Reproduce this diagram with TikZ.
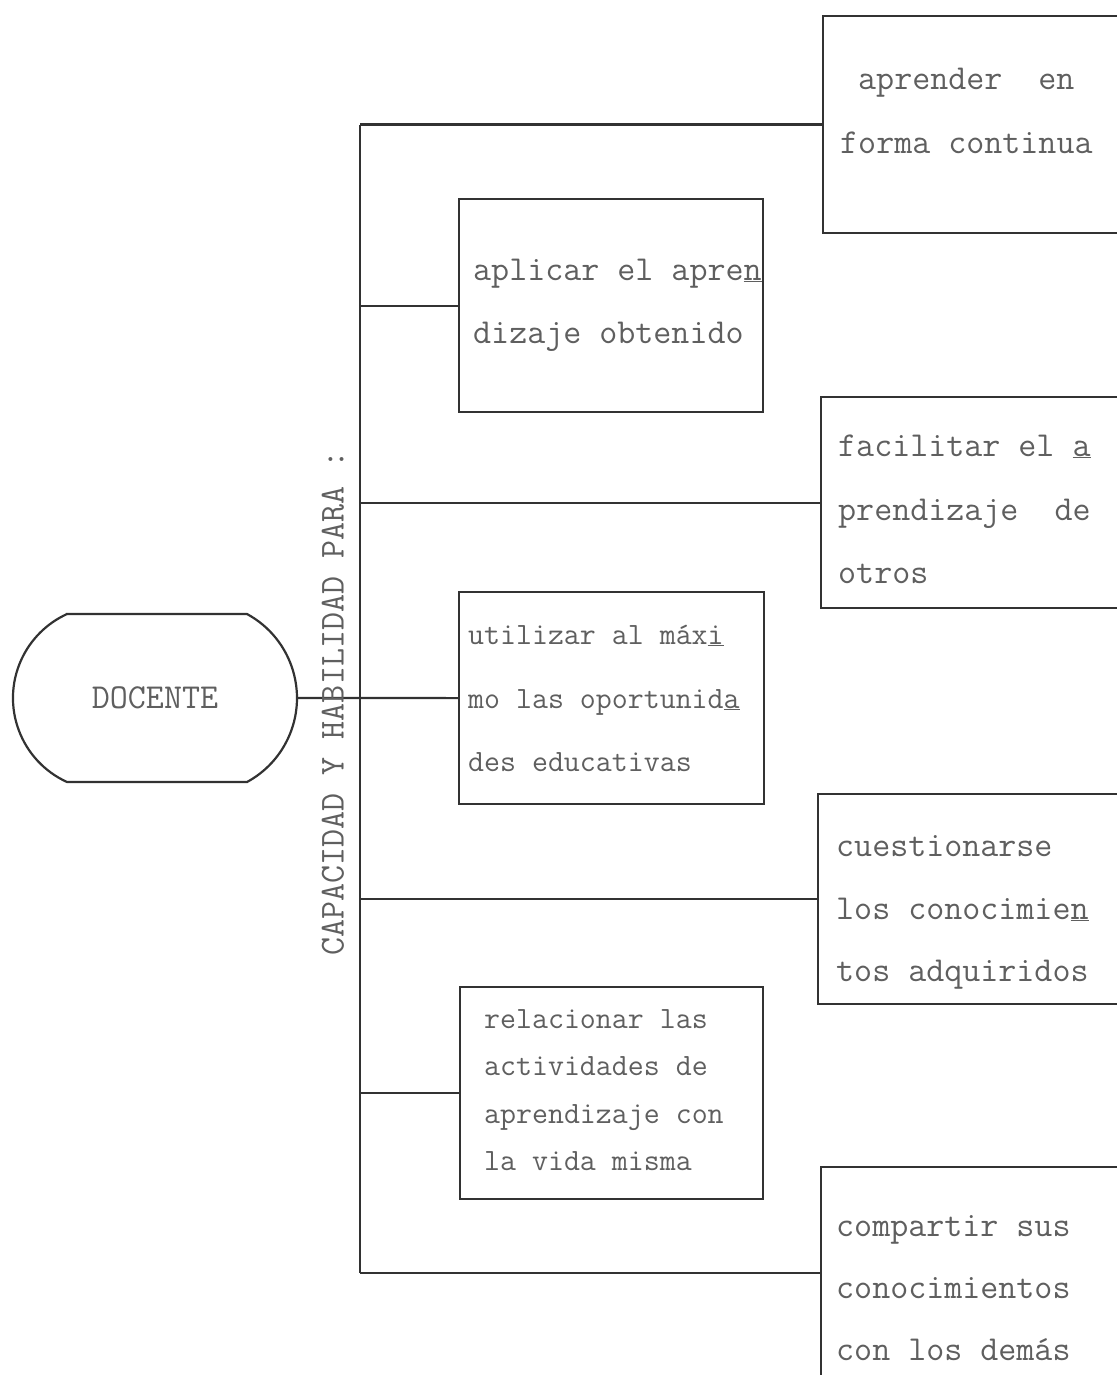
\documentclass[tikz,border=0pt]{standalone}
\usepackage{fontspec}
\definecolor{ink}{RGB}{50,50,50}
\definecolor{txt}{RGB}{95,95,95}
\begin{document}
\begin{tikzpicture}[x=1pt,y=-1pt,
  box/.style={draw=ink, line width=2.2pt, rectangle, inner sep=0pt, anchor=north west},
  lbl/.style={anchor=base west, inner sep=0pt, text=txt, font=\ttfamily\fontsize{35}{35}\selectfont},
  lbls/.style={lbl, font=\ttfamily\fontsize{31}{31}\selectfont},
  link/.style={draw=ink, line width=2.2pt}]
\useasboundingbox (0,0) rectangle (1116,1375);
% boxes
\node[box, minimum width=304pt, minimum height=217pt] (b1) at (822,15) {};
\node[box, minimum width=304pt, minimum height=213pt] (b2) at (458,198) {};
\node[box, minimum width=304pt, minimum height=211pt] (b3) at (820,396) {};
\node[box, minimum width=305pt, minimum height=212pt] (b4) at (458,591) {};
\node[box, minimum width=306pt, minimum height=210pt] (b5) at (817,793) {};
\node[box, minimum width=303pt, minimum height=212pt] (b6) at (459,986) {};
\node[box, minimum width=304pt, minimum height=212pt] (b7) at (820,1166) {};
% DOCENTE
\draw[ink, line width=2.2pt] (67,614) -- (247,614)
  arc[start angle=-61.5, end angle=61.5, radius=95.6]
  -- (67,782)
  arc[start angle=114.5, end angle=245.5, radius=92.3] -- cycle;
\node[text=txt, font=\ttfamily\fontsize{35}{35}\selectfont, minimum width=284pt, minimum height=168pt, inner sep=0pt] (doc) at (155,698) {DOCENTE};
% spine
\coordinate (spx) at (360,0);
\draw[link] (b1.west -| spx) -- (b7.west -| spx);
\foreach \b in {b1,b2,b3,b5,b6,b7} \draw[link] (\b.west) -- (\b.west -| spx);
\draw[link] (doc.east) -- (b4.west);
% vertical label
\node[text=txt, font=\ttfamily\fontsize{35}{35}\selectfont, rotate=90, inner sep=0pt] (cap) at (333,703) {CAPACIDAD Y HABILIDAD PARA :};
% texts
\node[lbl] (t11) at (858,90) {aprender\ \ en};
\node[lbl] (t12) at (840,154) {forma continua};
\node[lbl] (t21) at (473,280) {aplicar el apre\underline{n}};
\node[lbl] (t22) at (473,343) {dizaje obtenido};
\node[lbl] (t31) at (838,456) {facilitar el \underline{a}};
\node[lbl] (t32) at (838,520) {prendizaje\ \ de};
\node[lbl] (t33) at (838,583) {otros};
\node[lbls] (t41) at (468,644) {utilizar al máx\underline{i}};
\node[lbls] (t42) at (468,708) {mo las oportunid\underline{a}};
\node[lbls] (t43) at (468,771) {des educativas};
\node[lbl] (t51) at (836,856) {cuestionarse};
\node[lbl] (t52) at (836,919) {los conocimie\underline{n}};
\node[lbl] (t53) at (836,981) {tos adquiridos};
\node[lbls] (t61) at (484,1028) {relacionar las};
\node[lbls] (t62) at (484,1075) {actividades de};
\node[lbls] (t63) at (484,1123) {aprendizaje con};
\node[lbls] (t64) at (484,1170) {la vida misma};
\node[lbl] (t71) at (836,1236) {compartir sus};
\node[lbl] (t72) at (836,1298) {conocimientos};
\node[lbl] (t73) at (836,1360) {con los demás};
\end{tikzpicture}
\end{document}
